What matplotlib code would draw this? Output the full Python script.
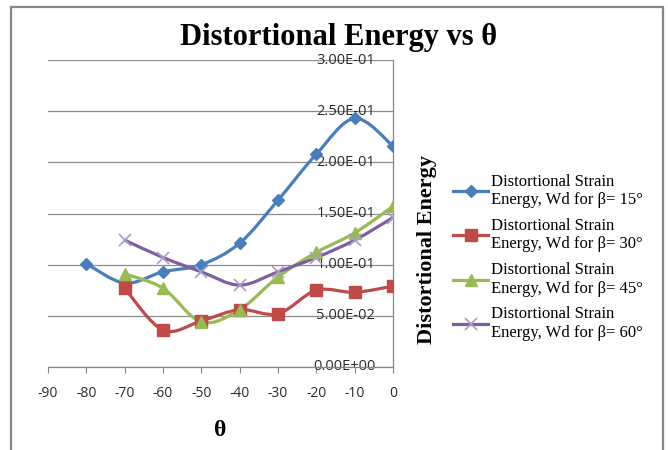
import numpy as np
import matplotlib
matplotlib.use("Agg")
import matplotlib.pyplot as plt
from matplotlib.lines import Line2D
from matplotlib.path import Path
from matplotlib.patches import PathPatch, Rectangle

# data
theta = [-80, -70, -60, -50, -40, -30, -20, -10, 0]
wd_15 = [0.101, 0.082, 0.093, 0.100, 0.121, 0.163, 0.208, 0.243, 0.216]
theta_b = [-70, -60, -50, -40, -30, -20, -10, 0]
wd_30 = [0.077, 0.036, 0.045, 0.056, 0.052, 0.075, 0.073, 0.079]
wd_45 = [0.091, 0.077, 0.044, 0.056, 0.088, 0.112, 0.131, 0.157]
wd_60 = [0.124, 0.107, 0.093, 0.080, 0.093, 0.107, 0.124, 0.146]
labels = ["Distortional Strain\nEnergy, Wd for \u03b2= 15\u00b0",
          "Distortional Strain\nEnergy, Wd for \u03b2= 30\u00b0",
          "Distortional Strain\nEnergy, Wd for \u03b2= 45\u00b0",
          "Distortional Strain\nEnergy, Wd for \u03b2= 60\u00b0"]
xticks = list(range(-90, 1, 10))
yticks = [0.0, 0.05, 0.10, 0.15, 0.20, 0.25, 0.30]

colors = ["#4A7EBB", "#BE4B48", "#98B954", "#7D60A0"]
markers = ["D", "s", "^", "x"]
msizes = [6.5, 8, 8, 9]
SERIF = "Liberation Serif"


def smooth_path(x, y):
    """Excel-style smoothed line: cubic Bezier through the points (Catmull-Rom control points)."""
    p = np.column_stack([x, y]).astype(float)
    pp = np.vstack([p[0], p, p[-1]])
    verts, codes = [p[0]], [Path.MOVETO]
    for i in range(len(p) - 1):
        a, b, c, d = pp[i], pp[i + 1], pp[i + 2], pp[i + 3]
        verts += [b + (c - a) / 6.0, c - (d - b) / 6.0, c]
        codes += [Path.CURVE4] * 3
    return Path(verts, codes)


fig = plt.figure(figsize=(6.68, 4.5), dpi=100)
ax = fig.add_axes([48 / 668, 83 / 450, 345 / 668, 307 / 450])

series = [(theta, wd_15), (theta_b, wd_30), (theta_b, wd_45), (theta_b, wd_60)]
handles = []
for (x, y), c, m, ms, lab in zip(series, colors, markers, msizes, labels):
    ax.add_patch(PathPatch(smooth_path(x, y), facecolor="none", edgecolor=c, lw=2.3, zorder=3))
    if m == "x":
        ax.plot(x, y, ls="none", marker=m, ms=ms, mec="#A99BCB", mew=1.2, zorder=4)
        h = Line2D([], [], color=c, lw=2.3, marker=m, ms=ms, mec="#A99BCB", mew=1.2)
    else:
        ax.plot(x, y, ls="none", marker=m, ms=ms, mfc=c, mec=c, zorder=4)
        h = Line2D([], [], color=c, lw=2.3, marker=m, ms=ms, mfc=c, mec=c)
    handles.append(h)

ax.set_xlim(-90, 0)
ax.set_ylim(0, 0.30)
ax.set_xticks(xticks)
ax.set_xticklabels([str(t) for t in xticks], fontfamily="Open Sans", fontsize=10, color="#2a2a2a")
ax.set_yticks(yticks)
ax.set_yticklabels([])
ax.tick_params(axis="y", left=False, right=False)
ax.tick_params(axis="x", direction="out", length=4, color="#868686", pad=10)
ax.grid(axis="y", color="#8C8C8C", lw=0.9)
ax.set_axisbelow(True)
for s in ["top", "left"]:
    ax.spines[s].set_visible(False)
for s in ["bottom", "right"]:
    ax.spines[s].set_color("#868686")
    ax.spines[s].set_linewidth(0.9)

# y tick labels sit to the left of the axis at theta = 0
for v in yticks:
    ax.text(-4.6, v, f"{v:.2E}", ha="right", va="center", fontfamily="Open Sans",
            fontsize=10.5, color="#2a2a2a", zorder=2, clip_on=False)

fig.text(339 / 668, 1 - 37 / 450, "Distortional Energy vs \u03b8", ha="center", va="center",
         fontfamily=SERIF, fontweight="bold", fontsize=22)
fig.text(220 / 668, 1 - 430 / 450, "\u03b8", ha="center", va="center",
         fontfamily=SERIF, fontweight="bold", fontsize=17)
fig.text(427 / 668, 1 - 250 / 450, "Distortional Energy", ha="center", va="center", rotation=90,
         fontfamily=SERIF, fontweight="bold", fontsize=16)

fig.legend(handles, labels, loc="upper left", bbox_to_anchor=(453 / 668, 1 - 174 / 450),
           frameon=False, prop={"family": SERIF, "size": 12}, handlelength=2.1,
           handletextpad=0.18, labelspacing=0.58, borderaxespad=0, borderpad=0)

fig.add_artist(Rectangle((11 / 668, -0.05), 652 / 668, 1.05 - 7 / 450, transform=fig.transFigure,
                         facecolor="none", edgecolor="#878787", lw=1.6))

fig.savefig("out.png", dpi=100)
